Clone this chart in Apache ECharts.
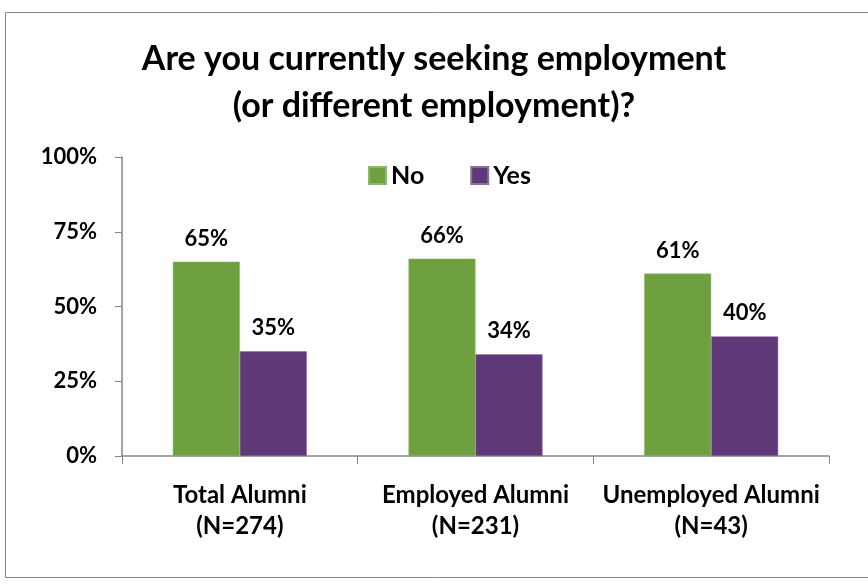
<!DOCTYPE html>
<html>
<head>
<meta charset="utf-8">
<script src="https://cdn.jsdelivr.net/npm/echarts@6/dist/echarts.min.js"></script>
<style>
  html, body { margin: 0; padding: 0; background: #fff; }
  #chart { width: 868px; height: 584px; }
</style>
</head>
<body>
<div id="chart"></div>
<script>
// Survey groups and the share answering No / Yes (percent)
const categories = ['Total Alumni\n(N=274)', 'Employed Alumni\n(N=231)', 'Unemployed Alumni\n(N=43)'];
const noValues = [65, 66, 61];
const yesValues = [35, 34, 40];
const yTicks = [0, 25, 50, 75, 100];

const FONT = 'Lato';
const chart = echarts.init(document.getElementById('chart'));

const labelStyle = {
  show: true,
  position: 'top',
  distance: 12,
  formatter: p => p.value + '%',
  fontFamily: FONT,
  fontWeight: 'bold',
  fontSize: 22,
  color: '#000'
};

chart.setOption({
  animation: false,
  backgroundColor: '#fff',
  graphic: [{
    type: 'rect',
    shape: { x: 5.5, y: 12.5, width: 880, height: 565 },
    style: { fill: 'none', stroke: '#868686', lineWidth: 1 },
    silent: true
  }],
  title: {
    text: 'Are you currently seeking employment\n(or different employment)?',
    left: 'center',
    top: 31,
    textStyle: {
      fontFamily: FONT,
      fontWeight: 'bold',
      fontSize: 34,
      lineHeight: 47,
      color: '#000'
    }
  },
  legend: {
    data: ['No', 'Yes'],
    left: 363,
    top: 158,
    itemWidth: 17,
    itemHeight: 17,
    itemGap: 46,
    icon: 'rect',
    textStyle: { fontFamily: FONT, fontWeight: 'bold', fontSize: 25, color: '#000' }
  },
  grid: { left: 122, right: 39, top: 157, bottom: 128, containLabel: false },
  xAxis: {
    type: 'category',
    data: categories,
    axisLine: { lineStyle: { color: '#868686', width: 1.5 } },
    axisTick: { show: true, length: 8, lineStyle: { color: '#868686' } },
    axisLabel: {
      interval: 0,
      hideOverlap: false,
      margin: 24,
      fontFamily: FONT,
      fontWeight: 'bold',
      fontSize: 24,
      lineHeight: 31,
      color: '#000'
    }
  },
  yAxis: {
    type: 'value',
    min: yTicks[0],
    max: yTicks[yTicks.length - 1],
    interval: 25,
    splitLine: { show: false },
    axisLine: { show: true, lineStyle: { color: '#868686', width: 1.5 } },
    axisTick: { show: true, length: 7, lineStyle: { color: '#868686' } },
    axisLabel: {
      margin: 25,
      formatter: v => v + '%',
      fontFamily: FONT,
      fontWeight: 'bold',
      fontSize: 22,
      color: '#000'
    }
  },
  series: [
    {
      name: 'No',
      type: 'bar',
      data: noValues,
      barWidth: 67,
      barGap: '0%',
      itemStyle: { color: '#6FA03F', borderColor: '#8DB86A', borderWidth: 0.5 },
      label: labelStyle
    },
    {
      name: 'Yes',
      type: 'bar',
      data: yesValues,
      barWidth: 67,
      barGap: '0%',
      itemStyle: { color: '#5E3877', borderColor: '#8A6E9C', borderWidth: 0.5 },
      label: labelStyle
    }
  ]
});
</script>
</body>
</html>
